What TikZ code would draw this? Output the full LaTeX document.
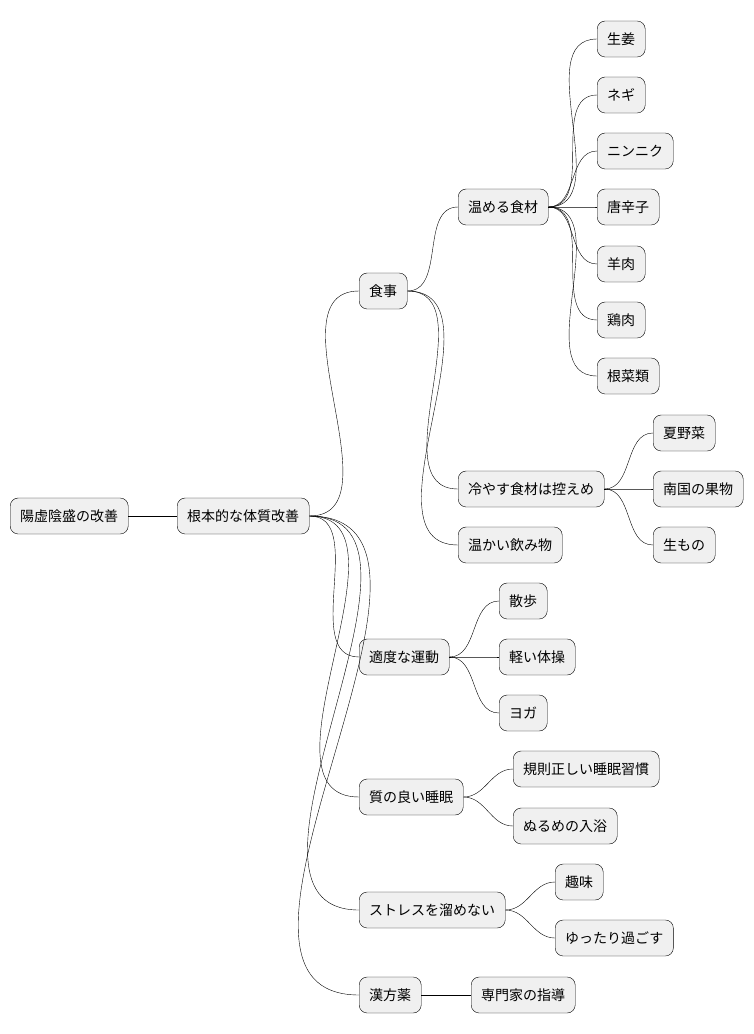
\documentclass[tikz,border=0pt]{standalone}
\usepackage{fontspec}
\setmainfont{Noto Sans CJK JP}
\begin{document}
\begin{tikzpicture}[x=1pt, y=-1pt,
  topic/.style={draw, fill=black!6, rounded corners=8pt, anchor=west,
    minimum height=36pt, inner xsep=10pt, font=\fontsize{14}{16}\selectfont},
  link/.style={draw, thin}]

  \useasboundingbox (0,0) rectangle (754,1034);

  % root and main branch
  \node[topic] (root) at (10,516) {陽虚陰盛の改善};
  \node[topic] (base) at (177,516) {根本的な体質改善};

  % level 2
  \node[topic] (meal)   at (359,291) {食事};
  \node[topic] (sport)  at (359,657) {適度な運動};
  \node[topic] (sleep)  at (359,797) {質の良い睡眠};
  \node[topic] (stress) at (359,910) {ストレスを溜めない};
  \node[topic] (kampo)  at (359,995) {漢方薬};

  % food
  \node[topic] (warm)  at (458,207) {温める食材};
  \node[topic] (cool)  at (458,489) {冷やす食材は控えめ};
  \node[topic] (drink) at (458,545) {温かい飲み物};

  \node[topic] (w1) at (597,39)  {生姜};
  \node[topic] (w2) at (597,95)  {ネギ};
  \node[topic] (w3) at (597,151) {ニンニク};
  \node[topic] (w4) at (597,207) {唐辛子};
  \node[topic] (w5) at (597,264) {羊肉};
  \node[topic] (w6) at (597,320) {鶏肉};
  \node[topic] (w7) at (597,376) {根菜類};

  \node[topic] (c1) at (653,433) {夏野菜};
  \node[topic] (c2) at (653,489) {南国の果物};
  \node[topic] (c3) at (653,545) {生もの};

  % exercise, sleep, stress, kampo
  \node[topic] (s1) at (499,601) {散歩};
  \node[topic] (s2) at (499,657) {軽い体操};
  \node[topic] (s3) at (499,713) {ヨガ};

  \node[topic] (z1) at (513,769) {規則正しい睡眠習慣};
  \node[topic] (z2) at (513,826) {ぬるめの入浴};

  \node[topic] (r1) at (555,882) {趣味};
  \node[topic] (r2) at (555,938) {ゆったり過ごす};

  \node[topic] (k1) at (471,995) {専門家の指導};

  % connectors
  \draw[link] (root.east) -- (base.west);
  \foreach \n in {meal,sport,sleep,stress,kampo}
    \draw[link] (base.east) to[out=0,in=180] (\n.west);
  \foreach \n in {warm,cool,drink}
    \draw[link] (meal.east) to[out=0,in=180] (\n.west);
  \foreach \n in {w1,w2,w3,w4,w5,w6,w7}
    \draw[link] (warm.east) to[out=0,in=180] (\n.west);
  \foreach \n in {c1,c2,c3}
    \draw[link] (cool.east) to[out=0,in=180] (\n.west);
  \foreach \n in {s1,s2,s3}
    \draw[link] (sport.east) to[out=0,in=180] (\n.west);
  \foreach \n in {z1,z2}
    \draw[link] (sleep.east) to[out=0,in=180] (\n.west);
  \foreach \n in {r1,r2}
    \draw[link] (stress.east) to[out=0,in=180] (\n.west);
  \draw[link] (kampo.east) -- (k1.west);

\end{tikzpicture}
\end{document}
